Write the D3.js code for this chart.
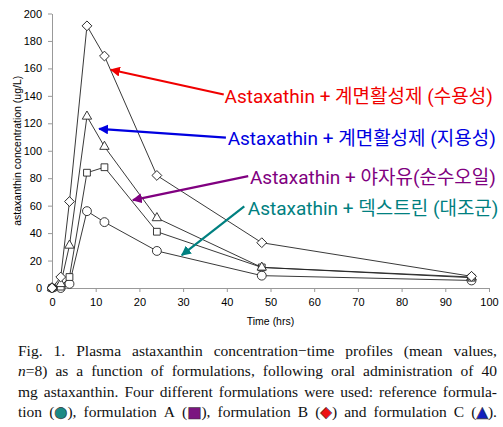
<!DOCTYPE html>
<html>
<head>
<meta charset="utf-8">
<script src="https://cdn.jsdelivr.net/npm/d3@7"></script>
<style>
  body { margin: 0; background: #fff; }
  svg { display: block; }
  .axis path, .axis line { stroke: #999; }
  .axis text { font-family: "Liberation Sans", Arial, sans-serif; font-size: 11px; fill: #000; }
</style>
</head>
<body>
<script>
// sampling times (hrs)
var times = [0, 2, 4, 8, 12, 24, 48, 96];

// mean plasma concentration (ug/L)
var formB = [0, 8, 63, 191, 169, 82, 33, 8.5];   // diamonds
var formC = [0, 3, 31, 125, 103, 51, 15, 8];     // triangles
var formA = [0, 1, 8, 84, 88, 41, 15, 7.5];      // squares
var refForm = [0, 0, 3, 56, 48, 27, 9, 5.5];     // circles

var xTicks = [0, 10, 20, 30, 40, 50, 60, 70, 80, 90, 100];
var yTicks = [0, 20, 40, 60, 80, 100, 120, 140, 160, 180, 200];

var labels = [
  "Astaxathin + 계면활성제 (수용성)",
  "Astaxathin + 계면활성제 (지용성)",
  "Astaxathin + 야자유(순수오일)",
  "Astaxathin + 덱스트린 (대조군)"
];

var width = 503, height = 427;
var margin = {top: 13.5, left: 52, right: 14, bottom: 139};

var svg = d3.select("body").append("svg")
  .attr("width", width)
  .attr("height", height);

var x = d3.scaleLinear().domain([0, 100]).range([margin.left, width - margin.right]);
var y = d3.scaleLinear().domain([0, 200]).range([height - margin.bottom, margin.top]);

// axes
svg.append("g")
  .attr("class", "axis")
  .attr("transform", "translate(0," + y(0) + ")")
  .call(d3.axisBottom(x).tickValues(xTicks).tickSize(4).tickSizeOuter(0).tickPadding(6));

svg.append("g")
  .attr("class", "axis")
  .attr("transform", "translate(" + x(0) + ",0)")
  .call(d3.axisLeft(y).tickValues(yTicks).tickSize(4).tickSizeOuter(0).tickPadding(6));

svg.append("text")
  .attr("x", x(50))
  .attr("y", y(0) + 37)
  .attr("text-anchor", "middle")
  .style("font-family", "Liberation Sans, Arial, sans-serif")
  .style("font-size", "10.5px")
  .text("Time (hrs)");

svg.append("text")
  .attr("transform", "translate(21," + y(100) + ") rotate(-90)")
  .attr("text-anchor", "middle")
  .style("font-family", "Liberation Sans, Arial, sans-serif")
  .style("font-size", "10.5px")
  .text("astaxanthin concentration (ug/L)");

// series (diamond = square turned 45 deg)
var series = [
  {values: refForm, sym: d3.symbolCircle, size: 62, rot: 0},
  {values: formA, sym: d3.symbolSquare, size: 46, rot: 0},
  {values: formC, sym: d3.symbolTriangle, size: 38, rot: 0},
  {values: formB, sym: d3.symbolSquare, size: 48, rot: 45}
];

var line = d3.line()
  .x(function(d) { return x(d[0]); })
  .y(function(d) { return y(d[1]); });

series.forEach(function(s) {
  var pts = times.map(function(t, i) { return [t, s.values[i]]; });
  svg.append("path")
    .datum(pts)
    .attr("d", line)
    .attr("fill", "none")
    .attr("stroke", "#222")
    .attr("stroke-width", 0.9);
  svg.selectAll(null)
    .data(pts)
    .enter().append("path")
    .attr("transform", function(d) {
      return "translate(" + x(d[0]) + "," + y(d[1]) + ") rotate(" + s.rot + ")";
    })
    .attr("d", d3.symbol().type(s.sym).size(s.size))
    .attr("fill", "#fff")
    .attr("stroke", "#222")
    .attr("stroke-width", 0.9);
});

// annotations: text anchor, arrow tail and tip, all in data units
var notes = [
  {text: labels[0], color: "#f00000", tx: 39.5, ty: 140, tail: [39.3, 141], tip: [13.5, 159]},
  {text: labels[1], color: "#0000e0", tx: 40.2, ty: 109, tail: [39.8, 109.5], tip: [10.8, 116]},
  {text: labels[2], color: "#800080", tx: 45.3, ty: 80.5, tail: [44.9, 81.5], tip: [18.5, 64]},
  {text: labels[3], color: "#008080", tx: 44.8, ty: 58, tail: [44, 59.5], tip: [29.7, 24]}
];

var defs = svg.append("defs");
notes.forEach(function(n, i) {
  defs.append("marker")
    .attr("id", "arr" + i)
    .attr("viewBox", "0 0 10 10")
    .attr("refX", 9).attr("refY", 5)
    .attr("markerWidth", 4.5).attr("markerHeight", 4.5)
    .attr("markerUnits", "strokeWidth")
    .attr("orient", "auto")
    .append("path")
    .attr("d", "M0,0L10,5L0,10z")
    .attr("fill", n.color);

  svg.append("line")
    .attr("x1", x(n.tail[0])).attr("y1", y(n.tail[1]))
    .attr("x2", x(n.tip[0])).attr("y2", y(n.tip[1]))
    .attr("stroke", n.color)
    .attr("stroke-width", 2.2)
    .attr("marker-end", "url(#arr" + i + ")");

  svg.append("text")
    .attr("x", x(n.tx))
    .attr("y", y(n.ty))
    .attr("dy", "0.35em")
    .attr("fill", n.color)
    .style("font-family", "Roboto, 'Noto Sans CJK KR', sans-serif")
    .style("font-size", "19px")
    .text(n.text);
});

// caption, justified
var caption = [
  [["Fig."], ["1."], ["Plasma"], ["astaxanthin"], ["concentration−time"], ["profiles"], ["(mean"], ["values,"]],
  [[["n", "i"], "=8)"], ["as"], ["a"], ["function"], ["of"], ["formulations,"], ["following"], ["oral"], ["administration"], ["of"], ["40"]],
  [["mg"], ["astaxanthin."], ["Four"], ["different"], ["formulations"], ["were"], ["used:"], ["reference"], ["formula-"]],
  [["tion"], ["(", ["●", "#1a8a86"], "),"], ["formulation"], ["A"], ["(", ["■", "#7b1680"], "),"], ["formulation"], ["B"],
   ["(", ["◆", "#ee1111"], ")"], ["and"], ["formulation"], ["C"], ["(", ["▲", "#1020c0"], ")."]]
];

var capLeft = 18, capRight = 497, capTop = 356, capStep = 20.3;

caption.forEach(function(words, li) {
  var g = svg.append("g");
  var nodes = words.map(function(w) {
    var t = g.append("text")
      .attr("y", capTop + li * capStep)
      .style("font-family", "'Liberation Serif', 'Times New Roman', serif")
      .style("font-size", "15.5px")
      .attr("fill", "#111");
    w.forEach(function(part) {
      if (typeof part === "string") {
        t.append("tspan").text(part);
      } else if (part[1] === "i") {
        t.append("tspan").style("font-style", "italic").text(part[0]);
      } else {
        t.append("tspan")
          .style("font-family", "'DejaVu Sans', sans-serif")
          .style("font-size", "15px")
          .attr("fill", part[1])
          .attr("stroke", "#333")
          .attr("stroke-width", 0.6)
          .text(part[0]);
      }
    });
    return t;
  });
  var widths = nodes.map(function(t) { return t.node().getComputedTextLength(); });
  var total = d3.sum(widths);
  var gap = (capRight - capLeft - total) / (nodes.length - 1);
  var pos = capLeft;
  nodes.forEach(function(t, i) {
    t.attr("x", pos);
    pos += widths[i] + gap;
  });
});
</script>
</body>
</html>
